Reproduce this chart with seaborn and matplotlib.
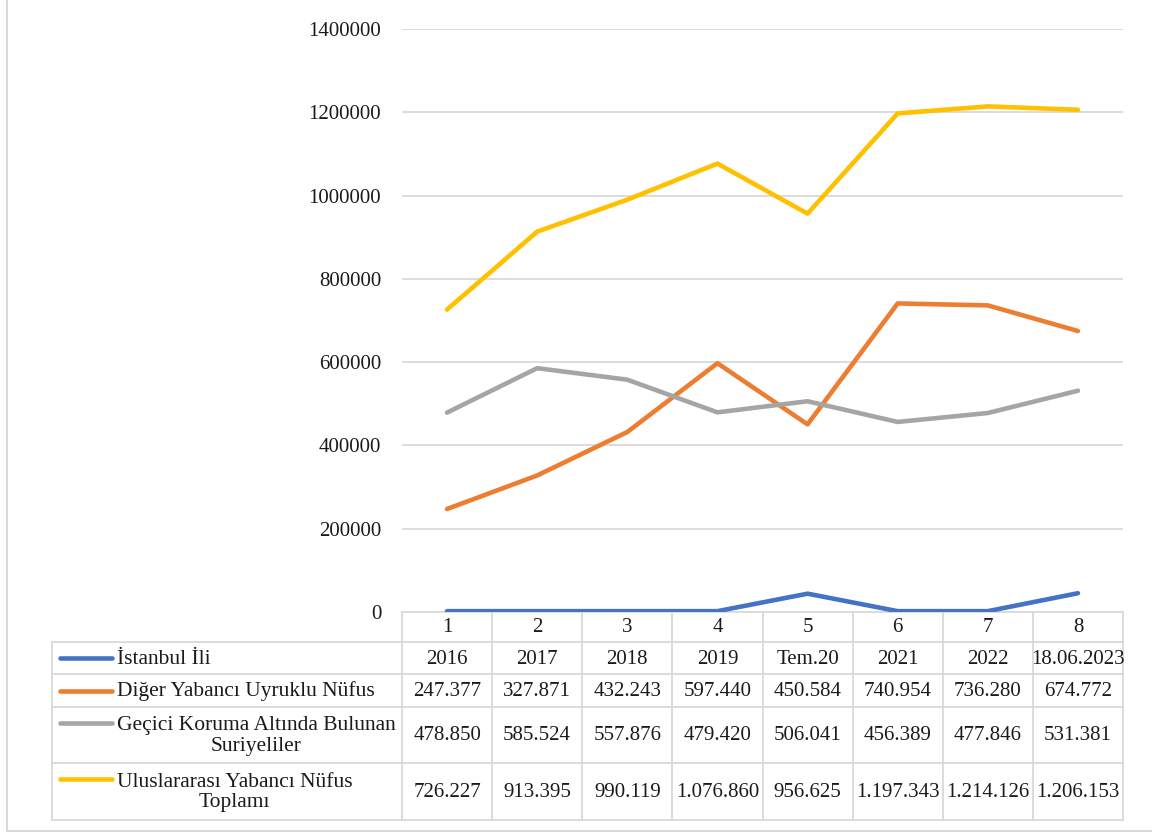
import matplotlib
matplotlib.use("Agg")
import matplotlib.pyplot as plt
import seaborn as sns
import pandas as pd

# ---- data -------------------------------------------------------------
periods = ["2016", "2017", "2018", "2019", "Tem.20", "2021", "2022", "18.06.2023"]
period_index = ["1", "2", "3", "4", "5", "6", "7", "8"]

series_names = [
    "İstanbul İli",
    "Diğer Yabancı Uyruklu Nüfus",
    "Geçici Koruma Altında Bulunan\nSuriyeliler",
    "Uluslararası Yabancı Nüfus\nToplamı",
]
# first series holds the period values themselves (dates stored as serial numbers)
istanbul = [2016, 2017, 2018, 2019, 44013, 2021, 2022, 45095]
diger = [247377, 327871, 432243, 597440, 450584, 740954, 736280, 674772]
gecici = [478850, 585524, 557876, 479420, 506041, 456389, 477846, 531381]
toplam = [726227, 913395, 990119, 1076860, 956625, 1197343, 1214126, 1206153]

colors = ["#4472C4", "#ED7D31", "#A5A5A5", "#FFC000"]
y_ticks = [0, 200000, 400000, 600000, 800000, 1000000, 1200000, 1400000]

# ---- style ------------------------------------------------------------
sns.set_theme(style="white")
plt.rcParams["font.family"] = ["Liberation Serif", "DejaVu Serif"]
FS = 15
FS_LABEL = 15.5
GRID = "#d9d9d9"
TXT = "#1a1a1a"

W, H = 1152, 836
fig = plt.figure(figsize=(W / 100, H / 100), dpi=100)

# layout in pixels
px_left, px_right, px_top, px_bottom = 402, 1123, 29, 612
ax = fig.add_axes([px_left / W, 1 - px_bottom / H,
                   (px_right - px_left) / W, (px_bottom - px_top) / H])

values = [istanbul, diger, gecici, toplam]
frames = []
for name, vals in zip(series_names, values):
    frames.append(pd.DataFrame({"x": range(len(periods)), "value": vals, "series": name}))
df = pd.concat(frames, ignore_index=True)

sns.lineplot(data=df, x="x", y="value", hue="series", hue_order=series_names,
             palette=colors, linewidth=3.3, sort=False, legend=False, ax=ax,
             solid_capstyle="round", solid_joinstyle="round")

ax.set_xlim(-0.5, len(periods) - 0.5)
ax.set_ylim(0, 1400000)
ax.set_yticks(y_ticks)
ax.set_yticklabels([str(v) for v in y_ticks], fontsize=FS, color=TXT)
ax.set_xticks([])
ax.set_xlabel("")
ax.set_ylabel("")
ax.tick_params(axis="y", length=0, pad=15)
ax.yaxis.grid(True, color=GRID, linewidth=1.3)
ax.set_axisbelow(True)
for s in ax.spines.values():
    s.set_visible(False)
ax.patch.set_alpha(0)

# ---- data table below the plot ---------------------------------------
tab = fig.add_axes([0, 0, 1, 1], zorder=-1)
tab.set_xlim(0, W)
tab.set_ylim(H, 0)
tab.axis("off")

n = len(periods)
col_w = (px_right - px_left) / n
col_x = [px_left + i * col_w for i in range(n + 1)]
label_left = 52
row_y = [612, 642, 674, 707, 763, 820]  # boundaries: index row, then 4 series rows
lw_t = 1.3

# frame around the whole chart
tab.plot([7, 7, 1160], [-2, 831, 831], color=GRID, lw=1.5, solid_capstyle="butt")

# horizontal rules
tab.plot([px_left, px_right], [row_y[0], row_y[0]], color=GRID, lw=lw_t)
for y in row_y[1:]:
    tab.plot([label_left, px_right], [y, y], color=GRID, lw=lw_t)
# vertical rules
for x in col_x:
    tab.plot([x, x], [row_y[0], row_y[-1]], color=GRID, lw=lw_t)
tab.plot([label_left, label_left], [row_y[1], row_y[-1]], color=GRID, lw=lw_t)

# index row
for i, lab in enumerate(period_index):
    tab.text(px_left + (i + 0.5) * col_w, (row_y[0] + row_y[1]) / 2 + 1, lab,
             ha="center", va="center", fontsize=FS, color=TXT)


def fmt(v):
    return f"{v:,}".replace(",", ".")


row_texts = [periods] + [[fmt(v) for v in vals] for vals in values[1:]]
for r, (name, color, texts) in enumerate(zip(series_names, colors, row_texts)):
    yc = (row_y[r + 1] + row_y[r + 2]) / 2 + 1
    key_y = yc - 1 if "\n" not in name else row_y[r + 1] + 16
    tab.plot([60, 112], [key_y, key_y], color=color, lw=3.3, solid_capstyle="round")
    tab.text(117, yc, name, ha="left", va="center", fontsize=FS_LABEL,
             multialignment="center", color=TXT, linespacing=1.1)
    for i, t in enumerate(texts):
        tab.text(px_left + (i + 0.5) * col_w, yc, t, ha="center", va="center",
                 fontsize=FS, color=TXT)

fig.savefig("out.png", dpi=100)
